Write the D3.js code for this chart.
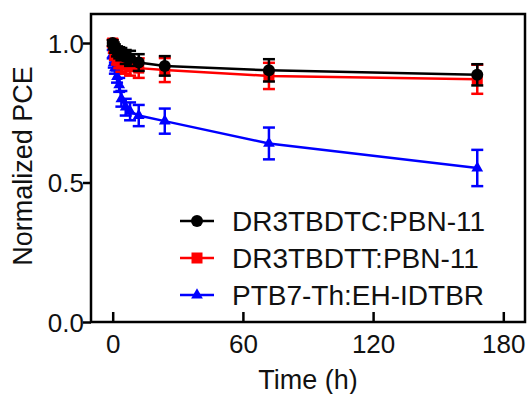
<!DOCTYPE html>
<html>
<head>
<meta charset="utf-8">
<script src="https://cdn.jsdelivr.net/npm/d3@7"></script>
<style>
  body { margin: 0; background: #fff; }
  svg text { font-family: 'Liberation Sans', Arial, sans-serif; fill: #111; }
</style>
</head>
<body>
<div id="chart"></div>
<script>
// time points (h)
var times = [0, 0.5, 1, 2, 3, 4, 6, 8, 12, 24, 72, 168]

var seriesNames = ['DR3TBDTC:PBN-11', 'DR3TBDTT:PBN-11', 'PTB7-Th:EH-IDTBR']
var seriesColors = ['#000000', '#ff0000', '#0000ff']
var seriesSymbols = ['circle', 'square', 'triangle']

var blackVals = [1.0, 0.99, 0.98, 0.97, 0.965, 0.96, 0.95, 0.945, 0.93, 0.918, 0.902, 0.886]
var blackErr = [0.01, 0.012, 0.015, 0.018, 0.02, 0.022, 0.025, 0.027, 0.03, 0.035, 0.04, 0.038]
var redVals = [1.0, 0.98, 0.96, 0.945, 0.935, 0.925, 0.92, 0.915, 0.91, 0.903, 0.882, 0.87]
var redErr = [0.012, 0.015, 0.02, 0.022, 0.025, 0.028, 0.03, 0.032, 0.035, 0.043, 0.047, 0.052]
var blueVals = [0.96, 0.93, 0.91, 0.88, 0.85, 0.80, 0.77, 0.755, 0.74, 0.72, 0.64, 0.552]
var blueErr = [0.015, 0.018, 0.02, 0.022, 0.025, 0.028, 0.03, 0.032, 0.038, 0.045, 0.057, 0.065]

var xTicks = [0, 60, 120, 180]
var yTicks = [0.0, 0.5, 1.0]

var svg = d3.select('#chart').append('svg')
  .attr('width', 530).attr('height', 394)

var x = d3.scaleLinear().domain([-10, 190]).range([91, 525])
var y = d3.scaleLinear().domain([0, 1.104]).range([322, 14])

var series = [blackVals, redVals, blueVals].map(function (vals, i) {
  var errs = [blackErr, redErr, blueErr][i]
  return {
    name: seriesNames[i],
    color: seriesColors[i],
    symbol: seriesSymbols[i],
    points: times.map(function (t, j) { return { t: t, v: vals[j], e: errs[j] } })
  }
})

function drawMarker(g, sym, color, cx, cy) {
  if (sym === 'circle') {
    g.append('circle').attr('cx', cx).attr('cy', cy).attr('r', 6).attr('fill', color)
  } else if (sym === 'square') {
    g.append('rect').attr('x', cx - 5.5).attr('y', cy - 5.5).attr('width', 11).attr('height', 11).attr('fill', color)
  } else {
    g.append('path')
      .attr('d', d3.symbol().type(d3.symbolTriangle).size(60)())
      .attr('transform', 'translate(' + cx + ',' + cy + ')')
      .attr('fill', color)
  }
}

// frame
svg.append('rect')
  .attr('x', x(-10)).attr('y', y(1.104))
  .attr('width', x(190) - x(-10)).attr('height', y(0) - y(1.104))
  .attr('fill', 'none').attr('stroke', '#000').attr('stroke-width', 2.5)

// x axis, ticks pointing inward
var xAxis = svg.append('g').attr('transform', 'translate(0,' + y(0) + ')')
  .call(d3.axisBottom(x).tickValues(xTicks).tickSize(0).tickPadding(12).tickFormat(d3.format('d')))
xAxis.select('.domain').remove()
xAxis.selectAll('.tick text').attr('font-size', 26).attr('dy', '0.82em').attr('y', 10)
xAxis.selectAll('.tick').append('line')
  .attr('y1', 0).attr('y2', -10).attr('stroke', '#000').attr('stroke-width', 2.5)

// y axis, ticks outward
var yAxis = svg.append('g').attr('transform', 'translate(' + x(-10) + ',0)')
  .call(d3.axisLeft(y).tickValues(yTicks).tickSize(8).tickPadding(0).tickFormat(d3.format('.1f')))
yAxis.select('.domain').remove()
yAxis.selectAll('.tick line').attr('stroke', '#000').attr('stroke-width', 2.5)
yAxis.selectAll('.tick text').attr('font-size', 26).attr('dy', '0.36em').attr('x', -7)

// axis titles
svg.append('text').attr('x', 308).attr('y', 389).attr('text-anchor', 'middle')
  .attr('font-size', 27).text('Time (h)')
svg.append('text').attr('transform', 'translate(32,166) rotate(-90)').attr('text-anchor', 'middle')
  .attr('font-size', 27).text('Normalized PCE')

var line = d3.line().x(function (d) { return x(d.t) }).y(function (d) { return y(d.v) })

// draw blue first, black last (black sits on top)
series.slice().reverse().forEach(function (s) {
  var g = svg.append('g')
  g.append('path').datum(s.points).attr('d', line)
    .attr('fill', 'none').attr('stroke', s.color).attr('stroke-width', 2.5)
  s.points.forEach(function (p) {
    var px = x(p.t), y1 = y(p.v + p.e), y2 = y(p.v - p.e)
    g.append('line').attr('x1', px).attr('x2', px).attr('y1', y1).attr('y2', y2)
      .attr('stroke', s.color).attr('stroke-width', 2.5)
    ;[y1, y2].forEach(function (yy) {
      g.append('line').attr('x1', px - 6).attr('x2', px + 6).attr('y1', yy).attr('y2', yy)
        .attr('stroke', s.color).attr('stroke-width', 2.5)
    })
    drawMarker(g, s.symbol, s.color, px, y(p.v))
  })
})

// legend
var legend = svg.append('g')
series.forEach(function (s, i) {
  var ly = 221 + i * 37
  legend.append('line').attr('x1', 180).attr('x2', 214).attr('y1', ly).attr('y2', ly)
    .attr('stroke', s.color).attr('stroke-width', 2.5)
  drawMarker(legend, s.symbol, s.color, 197, ly)
  legend.append('text').attr('x', 232).attr('y', ly).attr('dy', '0.36em')
    .attr('font-size', 28).text(s.name)
})
</script>
</body>
</html>
